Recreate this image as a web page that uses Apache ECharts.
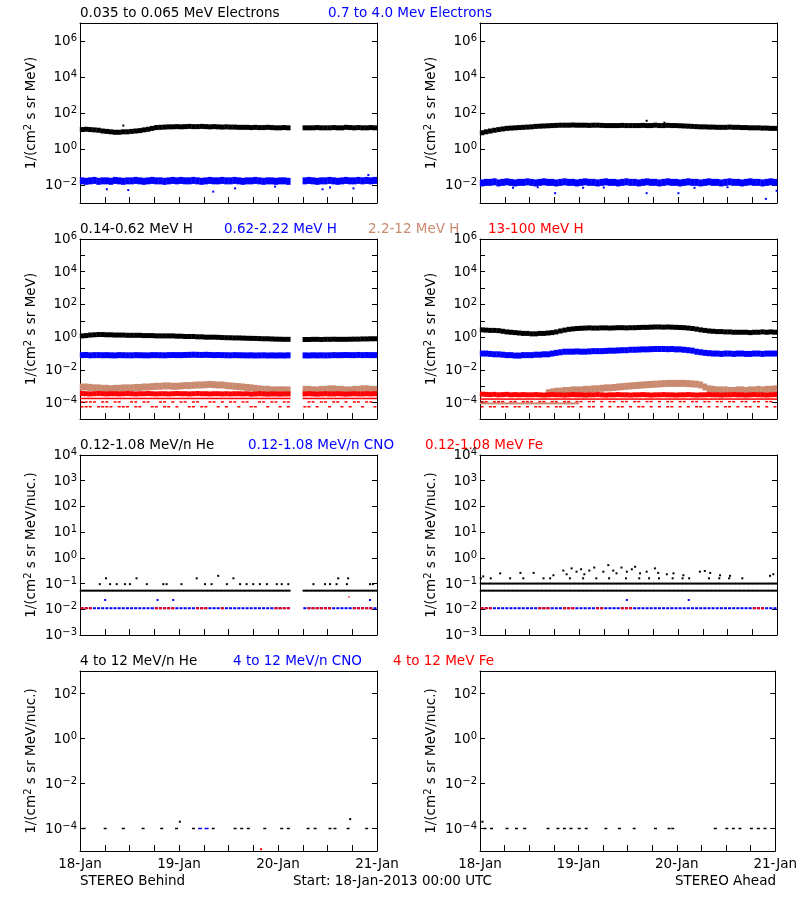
<!DOCTYPE html>
<html><head><meta charset="utf-8">
<script src="https://cdn.jsdelivr.net/npm/echarts@6/dist/echarts.min.js"></script>
<style>html,body{margin:0;padding:0;background:#fff}#c{width:800px;height:900px}</style>
</head><body><div id="c"></div>
<script>
// ---------------- DATA (hours since 18-Jan-2013 00:00 UTC, hourly bins) ----------------
const xTickLabels = ['18-Jan', '19-Jan', '20-Jan', '21-Jan'];

// Row 1: electrons
const elecLoB = [12,12.5,12,11.5,11, 10,9.5,9,8.5,8.5,9,9, 9.5,10,10.5,11.5,12.5,14,15.5, 16,16.5,17,17,17.5, 17,17.5,18,17.5,17.5,18,17.5,17,17.5,17,16.5,17,16.5,16.5,16, 16,16,15.5,16,15.5,15.5,16,15.5,15,15,15.5,15, null,null,null, 15,15,15,15.5,15,15,15,15.5,15,15,16,15.5,15,15.5,15,15,15.5,15];
const elecHiB = [0.017,0.016,0.017,0.018,0.016,0.017,0.017,0.016,0.018,0.017,0.016,0.017, 0.017,0.018,0.017,0.016,0.017,0.018,0.017,0.017,0.016,0.017,0.018,0.017, 0.018,0.017,0.017,0.018,0.017,0.016,0.017,0.018,0.017,0.017,0.018,0.017, 0.017,0.018,0.017,0.016,0.017,0.017,0.018,0.017,0.016,0.017,0.017,0.016, 0.017,0.017,0.016, null,null,null, 0.017,0.018,0.017,0.016,0.017,0.017,0.018,0.017,0.016,0.017,0.018,0.017,0.017,0.018,0.017,0.018,0.017,0.018];
const elecLoA = [8,9,10,11,12,13,14,14.5,15,15.5,16,16.5,17,18,18.5,19,19.5,20,20.5, 21,21,21,21.5,21,21,21,20.5,21,21,20.5,20,20,20,20,20.5,20,20,20, 20,20.5,20,20,21,20,20,20.5,20,20,19.5,19,18.5,18, 17.5,17,17,16.5,16.5,16,16,16,16.5,16,16,15.5,15.5,15,15,15,14.5,14.5,14,14];
const elecHiA = [0.013,0.014,0.014,0.015,0.013,0.014,0.015,0.014,0.013,0.014,0.014,0.015, 0.014,0.013,0.014,0.015,0.014,0.014,0.013,0.014,0.015,0.014,0.014,0.013, 0.014,0.015,0.014,0.014,0.013,0.014,0.015,0.014,0.014,0.013,0.014,0.015, 0.014,0.014,0.013,0.014,0.015,0.014,0.014,0.013,0.014,0.015,0.014,0.014, 0.013,0.014,0.015,0.014,0.014,0.013,0.014,0.015,0.014,0.014,0.013,0.014, 0.015,0.014,0.014,0.013,0.014,0.015,0.014,0.014,0.013,0.014,0.015,0.014];
const elecLoBExtra = [[10.5,20]];
const elecHiBExtra = [[6.5,0.0058],[11.7,0.0052],[32.3,0.0043],[37.6,0.0065],[47.3,0.0081],[58.8,0.0058],[60.6,0.0073],[66.3,0.0065],[69.9,0.036]];
const elecLoAExtra = [[40.4,37],[44.7,29]];
const elecHiAExtra = [[8,0.007],[14,0.0075],[18.2,0.0035],[25,0.007],[30,0.0072],[40.4,0.0035],[48.1,0.0035],[52,0.007],[60,0.0075],[69.3,0.0017],[71.9,0.0048]];

// Row 2: protons
const pLoB = [1.2,1.25,1.35,1.4,1.45,1.45,1.4,1.4,1.35,1.35,1.35,1.3, 1.3,1.3,1.3,1.25,1.25,1.25,1.2,1.2,1.2,1.2,1.2,1.15, 1.15,1.1,1.1,1.1,1.05,1.05,1.0,1.0,1.0,0.98,0.95,0.93, 0.92,0.9,0.9,0.88,0.86,0.85,0.84,0.82,0.8,0.8,0.78,0.76,0.75,0.74,0.74, null,null,null, 0.72,0.72,0.74,0.74,0.72,0.74,0.74,0.75,0.74,0.74,0.74,0.75,0.76,0.76,0.78,0.78,0.8,0.8];
const pMidB = [0.08,0.082,0.078,0.08,0.08,0.079,0.08,0.078,0.077,0.08,0.079,0.078, 0.078,0.08,0.079,0.078,0.077,0.08,0.08,0.079,0.078,0.08,0.081,0.08, 0.08,0.082,0.083,0.085,0.083,0.082,0.084,0.082,0.08,0.081,0.08,0.079, 0.078,0.08,0.079,0.078,0.077,0.078,0.076,0.077,0.078,0.076,0.077,0.076, 0.077,0.076,0.078, null,null,null, 0.077,0.076,0.078,0.077,0.078,0.077,0.078,0.08,0.079,0.08,0.081,0.08,0.08,0.082,0.08,0.081,0.08,0.08];
const pHiB = [9e-4,9e-4,8.5e-4,8e-4,8e-4,7.5e-4,7.5e-4,7e-4,7.5e-4,7.5e-4,8e-4,8e-4, 8e-4,8.5e-4,8.5e-4,9e-4,9e-4,9.5e-4,1e-3,1e-3,1.05e-3,1.05e-3,1e-3,1e-3, 1.05e-3,1.1e-3,1.1e-3,1.15e-3,1.2e-3,1.2e-3,1.25e-3,1.3e-3,1.25e-3,1.2e-3,1.2e-3,1.1e-3, 1.05e-3,1e-3,9.5e-4,9e-4,8.5e-4,8e-4,7.5e-4,7e-4,6.5e-4,6.5e-4,6e-4,6e-4, 6e-4,6e-4,6e-4, null,null,null, 6.5e-4,6.5e-4,6e-4,6e-4,6.5e-4,6.5e-4,7e-4,7e-4,6.5e-4,6.5e-4,6e-4,6e-4,6.5e-4,6.5e-4,7e-4,7e-4,6.5e-4,6.5e-4];
const pVhB = [3.6e-4,3.5e-4,3.4e-4,3.5e-4,3.6e-4,3.5e-4,3.4e-4,3.5e-4,3.5e-4,3.4e-4,3.5e-4,3.6e-4, 3.5e-4,3.4e-4,3.5e-4,3.5e-4,3.6e-4,3.5e-4,3.4e-4,3.5e-4,3.5e-4,3.4e-4,3.5e-4,3.6e-4, 3.5e-4,3.5e-4,3.4e-4,3.5e-4,3.6e-4,3.5e-4,3.5e-4,3.4e-4,3.5e-4,3.5e-4,3.4e-4,3.5e-4, 3.4e-4,3.5e-4,3.5e-4,3.4e-4,3.5e-4,3.3e-4,3.4e-4,3.5e-4,3.4e-4,3.3e-4,3.4e-4,3.4e-4, 3.3e-4,3.4e-4,3.4e-4, null,null,null, 3.4e-4,3.5e-4,3.4e-4,3.3e-4,3.4e-4,3.5e-4,3.4e-4,3.4e-4,3.5e-4,3.4e-4,3.3e-4,3.4e-4,3.5e-4,3.4e-4,3.4e-4,3.5e-4,3.4e-4,3.5e-4];
const pLoA = [2.8,2.7,2.6,2.6,2.5, 2.3,2.1,2.0,1.9,1.8, 1.7,1.7,1.6,1.6,1.7,1.7,1.8, 1.9,2.1,2.4,2.7,3.0,3.2,3.4, 3.5,3.6,3.7,3.6,3.6,3.7,3.7,3.6,3.7,3.8,3.8,3.7, 3.8,3.8,3.9,4.0,4.0,4.1,4.2,4.2,4.1,4.2,4.1,4.0, 3.9,3.8,3.6,3.4,3.1,2.8,2.6,2.4, 2.3,2.2,2.2,2.1,2.1,2.0,2.0,2.0,2.0,1.9,2.0,2.0,2.1,2.0,2.1,2.0];
const pMidA = [0.1,0.1,0.095,0.09,0.09, 0.085,0.08,0.08,0.075,0.075,0.08,0.08,0.08, 0.085,0.085,0.09,0.09,0.1,0.11,0.12, 0.13,0.13,0.13,0.135,0.13,0.13,0.135,0.14,0.14,0.14, 0.145,0.15,0.15,0.155,0.16,0.16,0.17,0.17,0.175,0.18, 0.18,0.185,0.19,0.19,0.19,0.185,0.19,0.18,0.18,0.17, 0.16,0.15,0.13,0.12,0.11,0.105, 0.1,0.1,0.095,0.1,0.1,0.095,0.1,0.1,0.095,0.095,0.1,0.1,0.095,0.1,0.1,0.1];
const pHiA = [null,null,null,null,null,null,null,null,null,null,null,null,null,null,null,null, 4e-4,4.5e-4,5e-4,5e-4,5.5e-4,5.5e-4,6e-4,6e-4, 6e-4,6.5e-4,6.5e-4,7e-4,7e-4,7.5e-4,8e-4,8e-4, 8.5e-4,9e-4,9.5e-4,1e-3,1.05e-3,1.1e-3,1.15e-3,1.2e-3, 1.25e-3,1.3e-3,1.35e-3,1.4e-3,1.45e-3,1.5e-3,1.5e-3,1.5e-3, 1.5e-3,1.5e-3,1.45e-3,1.4e-3,1.35e-3,1.2e-3,9e-4,7e-4, 6.5e-4,6e-4,6e-4,6e-4,5.5e-4,5.5e-4,6e-4,6e-4,5.5e-4,6e-4,6e-4,6.5e-4,6e-4,6.5e-4,6.5e-4,7e-4];
const pVhA = [3.3e-4,3.2e-4,3.1e-4,3.2e-4,3.0e-4,3.1e-4,3.2e-4,3.0e-4,3.1e-4,3.0e-4,3.1e-4,3.0e-4, 3.0e-4,3.1e-4,3.0e-4,2.9e-4,3.0e-4,3.1e-4,3.0e-4,3.0e-4,2.9e-4,3.0e-4,3.1e-4,3.0e-4, 3.0e-4,2.9e-4,3.0e-4,3.0e-4,3.1e-4,3.0e-4,2.9e-4,3.0e-4,3.0e-4,3.1e-4,3.0e-4,3.0e-4, 2.9e-4,3.0e-4,3.0e-4,3.1e-4,3.0e-4,2.9e-4,3.0e-4,3.0e-4,3.1e-4,3.0e-4,3.0e-4,2.9e-4, 3.0e-4,3.0e-4,3.1e-4,3.0e-4,2.9e-4,3.0e-4,3.0e-4,3.1e-4,3.0e-4,3.0e-4,2.9e-4,3.0e-4, 3.0e-4,3.1e-4,3.0e-4,3.0e-4,2.9e-4,3.0e-4,3.1e-4,3.0e-4,3.0e-4,2.9e-4,3.0e-4,3.1e-4];

// hours with data
const behindHours = [0,1,2,3,4,5,6,7,8,9,10,11,12,13,14,15,16,17,18,19,20,21,22,23,24,25,26,27,28,29,30,31,32,33,34,35,36,37,38,39,40,41,42,43,44,45,46,47,48,49,50,54,55,56,57,58,59,60,61,62,63,64,65,66,67,68,69,70,71];
const aheadHours = [0,1,2,3,4,5,6,7,8,9,10,11,12,13,14,15,16,17,18,19,20,21,22,23,24,25,26,27,28,29,30,31,32,33,34,35,36,37,38,39,40,41,42,43,44,45,46,47,48,49,50,51,52,53,54,55,56,57,58,59,60,61,62,63,64,65,66,67,68,69,70,71];

// quantized 13-100 MeV H count levels (value levels + hours present)
const redLevelsB = [1.8e-4, 1.1e-4, 5.6e-5];
const redL2B = [0,1,2,3,5,6,8,9,12,13,15,16,19,20,22,24,25,27,28,31,32,34,36,37,39,40,43,44,46,47,49,50,55,56,58,59,61,62,64,66,67,69,70];
const redL3B = [0,1,2,4,5,6,7,9,10,11,13,14,17,18,20,21,23,26,27,29,30,33,35,38,41,42,45,48,50,54,55,57,60,63,65,68,71];
const redLevelsA = [1.65e-4, 1.15e-4, 5.6e-5];
const redL2A = [0,1,3,4,5,7,8,10,11,12,14,15,17,18,20,21,23,24,26,27,29,31,32,34,35,37,38,40,41,43,45,46,48,49,51,52,54,55,57,58,60,61,63,64,66,67,69,70];
const redL3A = [0,2,3,5,6,8,9,11,13,14,16,18,19,21,22,24,26,27,29,31,33,34,36,38,39,41,43,45,46,48,50,52,53,55,57,59,60,62,64,65,67,69,71];
const sienLowLevelA = 9e-5;
const sienLowA = [0,1,2,3,4,5,6,7,8,9,10,11,12,13,14,15,16,17,18,19,20,21,22,23];

// Row 3: 0.12-1.08 MeV/n
const heBaseLevel = 0.053, heMidLevel = 0.1, cnoLevel = 0.011;
const heScatB = [[4.8,0.095],[6.3,0.16],[7.3,0.095],[8.9,0.095],[10.9,0.095],[12.1,0.095],[13.7,0.16],[16.2,0.095],[20.2,0.095],[21.0,0.095],[24.6,0.095],[28.3,0.16],[30.3,0.095],[31.9,0.095],[33.5,0.2],[35.6,0.095],[37.2,0.16],[38.8,0.095],[40.4,0.095],[42.0,0.095],[43.6,0.095],[45.3,0.095],[47.7,0.095],[48.9,0.095],[50.5,0.095],[56.6,0.095],[59.4,0.095],[60.6,0.095],[62.2,0.095],[62.6,0.16],[64.7,0.095],[65.0,0.16],[70.3,0.095],[71.0,0.095]];
const feHoursB = [0,1,2,18,19,20,21,22,28,29,30,34,47,48,49,50,55,56,57,58,59,60,66,67,68,69,70];
const cnoUpB = [[6.1,0.023],[18.8,0.023],[22.6,0.023],[70.3,0.023]];
const feUpB = [[65.2,0.03]];
const heScatA = [[0.8,0.19],[4.9,0.25],[9.8,0.26],[13.0,0.26],[17.8,0.21],[20.2,0.32],[21.0,0.23],[22.2,0.39],[23.4,0.29],[24.5,0.36],[25.3,0.23],[26.5,0.32],[27.7,0.42],[29.9,0.29],[31.1,0.52],[32.3,0.32],[33.1,0.25],[34.3,0.42],[35.6,0.29],[36.8,0.36],[37.6,0.45],[38.8,0.25],[40.4,0.29],[42.4,0.39],[43.2,0.26],[45.3,0.23],[46.9,0.25],[49.3,0.21],[53.3,0.29],[54.5,0.31],[55.8,0.26],[58.2,0.21],[60.6,0.2],[70.3,0.2],[71.1,0.23],
  [0.2,0.16],[2.6,0.16],[7.3,0.16],[10.5,0.16],[15.4,0.16],[17.0,0.16],[21.8,0.16],[25.0,0.16],[28.2,0.16],[31.3,0.16],[35.4,0.16],[38.6,0.16],[41.0,0.16],[43.4,0.16],[46.7,0.16],[49.1,0.16],[50.7,0.16],[55.5,0.16],[58.0,0.16],[60.4,0.16],[63.6,0.16]];
const feHoursA = [0,1,2,14,15,16,20,21,22,28,29,34,35,36,66,67,68];
const cnoUpA = [[35.6,0.023],[50.6,0.023]];

// Row 4: 4-12 MeV/n
const he4Level = 1e-4;
const he4BHours = [1.0,6.1,10.5,15.3,19.8,23.4,27.5,32.3,37.6,39.2,40.8,44.8,48.9,50.5,55.3,57.0,60.6,61.8,65.0,69.5];
const cno4BHours = [29.1,30.7];
const he4BExtra = [[24.2,2e-4],[65.5,2.6e-4]];
const fe4BExtra = [[43.9,1.2e-5]];
const he4AHours = [1.2,2.8,6.6,8.9,10.9,16.6,19.0,20.6,22.2,24.2,25.9,30.7,34.0,37.6,42.8,46.1,47.0,57.4,60.2,61.8,63.4,66.2,67.9,69.5];
const he4AExtra = [[0.6,2e-4]];

// ---------------- BUILD ----------------
const FONT = '"DejaVu Sans", sans-serif';
const BLACK = '#000000', BLUE = '#0000ff', SIENNA = '#c98a70', RED = '#ff0000';
const lg = Math.log10;
const hourly = arr => arr.map((v, i) => v == null ? null : [i + 0.5, lg(v)]).filter(Boolean);
const atBins = (hours, level) => hours.map(h => [h + 0.5, lg(level)]);
const atTimes = (hours, level) => hours.map(h => [h, lg(level)]);
const pairs = p => p.map(([h, v]) => [h, lg(v)]);

const rowsTop = [23, 239, 455, 671], colsLeft = [80, 480], W = 297, H = 180;
const yRange = [[-3, 7], [-5, 6], [-3, 4], [-5, 3]];
const yLabels = [[-2, 0, 2, 4, 6], [-4, -2, 0, 2, 4, 6], [-3, -2, -1, 0, 1, 2, 3, 4], [-4, -2, 0, 2]];
const yTicks = [[-2, 0, 2, 4, 6], [-4, -3, -2, -1, 0, 1, 2, 3, 4, 5], [-2, -1, 0, 1, 2, 3], [-4, -2, 0, 2]];
const yNames = ['{b|1/(cm}{s|2}{b| s sr MeV)}', '{b|1/(cm}{s|2}{b| s sr MeV)}', '{b|1/(cm}{s|2}{b| s sr MeV/nuc.)}', '{b|1/(cm}{s|2}{b| s sr MeV/nuc.)}'];
const rich = {
  b: {fontSize: 13.5, fontFamily: FONT, color: '#000', verticalAlign: 'bottom', lineHeight: 15},
  s: {fontSize: 10, fontFamily: FONT, color: '#000', verticalAlign: 'top', lineHeight: 10, padding: [0, 0, 8, 0]}
};
const supTxt = v => (v < 0 ? '\u2212' + (-v) : '' + v);

const grid = [], xAxis = [], yAxis = [];
const line = {show: true, onZero: false, lineStyle: {color: '#000', width: 1}};
for (let r = 0; r < 4; r++) for (let c = 0; c < 2; c++) {
  const p = r * 2 + c;
  grid.push({left: colsLeft[c], top: rowsTop[r], width: W, height: H});
  xAxis.push({gridIndex: p, type: 'value', min: 0, max: 72, interval: 6, position: 'bottom',
    axisLine: line, splitLine: {show: false},
    axisTick: {show: true, inside: true, length: 6, lineStyle: {color: '#000'}},
    axisLabel: {show: r === 3, customValues: [0, 24, 48, 72], formatter: v => xTickLabels[Math.round(v / 24)],
      margin: 6, fontSize: 13.5, fontFamily: FONT, color: '#000'}});
  xAxis.push({gridIndex: p, type: 'value', min: 0, max: 72, interval: 6, position: 'top',
    axisLine: line, splitLine: {show: false}, axisTick: {show: false}, axisLabel: {show: false}});
  yAxis.push({gridIndex: p, type: 'value', min: yRange[r][0], max: yRange[r][1], interval: 1, position: 'left',
    axisLine: line, splitLine: {show: false},
    axisTick: {show: true, inside: true, length: 5, customValues: yTicks[r], lineStyle: {color: '#000'}},
    axisLabel: {show: true, customValues: yLabels[r], margin: 3, formatter: v => '{b|10}{s|' + supTxt(v) + '}', rich},
    name: yNames[r], nameLocation: 'middle', nameGap: 39, nameRotate: 90, nameTextStyle: {rich}});
  yAxis.push({gridIndex: p, type: 'value', min: yRange[r][0], max: yRange[r][1], interval: 1, position: 'right',
    axisLine: line, splitLine: {show: false}, axisLabel: {show: false},
    axisTick: {show: true, inside: true, length: 5, customValues: yTicks[r], lineStyle: {color: '#000'}}});
}

const series = [];
function add(p, data, color, w, h) {
  series.push({type: 'scatter', xAxisIndex: p * 2, yAxisIndex: p * 2, data, symbol: 'rect',
    symbolSize: [w, h], itemStyle: {color, opacity: 1}, silent: true, animation: false, clip: true});
}
// panel 0/1: electrons
add(0, hourly(elecLoB), BLACK, 4.5, 5); add(0, pairs(elecLoBExtra), BLACK, 2, 2);
add(0, hourly(elecHiB), BLUE, 4.5, 7); add(0, pairs(elecHiBExtra), BLUE, 2, 2);
add(1, hourly(elecLoA), BLACK, 4.5, 5); add(1, pairs(elecLoAExtra), BLACK, 2, 2);
add(1, hourly(elecHiA), BLUE, 4.5, 7); add(1, pairs(elecHiAExtra), BLUE, 2, 2);
// panel 2/3: protons
add(2, hourly(pLoB), BLACK, 4.5, 5); add(2, hourly(pMidB), BLUE, 4.5, 6);
add(2, hourly(pHiB), SIENNA, 4.5, 7);
add(2, hourly(pVhB), RED, 4.5, 5);
add(2, atBins(behindHours, redLevelsB[0]), RED, 4.5, 1.5);
add(2, atBins(redL2B, redLevelsB[1]), RED, 3, 1.5);
add(2, atBins(redL3B, redLevelsB[2]), RED, 3, 1.5);
add(3, hourly(pLoA), BLACK, 4.5, 5); add(3, hourly(pMidA), BLUE, 4.5, 6);
add(3, atBins(sienLowA, sienLowLevelA), SIENNA, 4.5, 2);
add(3, hourly(pHiA), SIENNA, 4.5, 7);
add(3, hourly(pVhA), RED, 4.5, 5);
add(3, atBins(aheadHours, redLevelsA[0]), RED, 4.5, 1.5);
add(3, atBins(redL2A, redLevelsA[1]), RED, 3, 1.5);
add(3, atBins(redL3A, redLevelsA[2]), RED, 3, 1.5);
// panel 4/5: 0.12-1.08 MeV/n
add(4, atBins(behindHours, heBaseLevel), BLACK, 4.5, 2); add(4, pairs(heScatB), BLACK, 2, 2);
add(4, atBins(behindHours, cnoLevel), BLUE, 3, 2); add(4, pairs(cnoUpB), BLUE, 2, 2);
add(4, atBins(feHoursB, cnoLevel), RED, 3, 2); add(4, pairs(feUpB), RED, 2, 1);
add(5, atBins(aheadHours, heBaseLevel), BLACK, 4.5, 2); add(5, atBins(aheadHours, heMidLevel), BLACK, 4.5, 2);
add(5, pairs(heScatA), BLACK, 2, 2);
add(5, atBins(aheadHours, cnoLevel), BLUE, 3, 2); add(5, pairs(cnoUpA), BLUE, 2, 2);
add(5, atBins(feHoursA, cnoLevel), RED, 3, 2);
// panel 6/7: 4-12 MeV/n
add(6, atTimes(he4BHours, he4Level), BLACK, 3, 1.5); add(6, pairs(he4BExtra), BLACK, 2, 2);
add(6, atTimes(cno4BHours, he4Level), BLUE, 4, 1.5); add(6, pairs(fe4BExtra), RED, 2, 2);
add(7, atTimes(he4AHours, he4Level), BLACK, 3, 1.5); add(7, pairs(he4AExtra), BLACK, 2, 2);

const texts = [
  ['0.035 to 0.065 MeV Electrons', 80, 13, BLACK], ['0.7 to 4.0 Mev Electrons', 328, 13, BLUE],
  ['0.14-0.62 MeV H', 80, 229, BLACK], ['0.62-2.22 MeV H', 224, 229, BLUE], ['2.2-12 MeV H', 368, 229, SIENNA], ['13-100 MeV H', 488, 229, RED],
  ['0.12-1.08 MeV/n He', 80, 445, BLACK], ['0.12-1.08 MeV/n CNO', 248, 445, BLUE], ['0.12-1.08 MeV Fe', 425, 445, RED],
  ['4 to 12 MeV/n He', 80, 661.5, BLACK], ['4 to 12 MeV/n CNO', 233, 661.5, BLUE], ['4 to 12 MeV Fe', 393, 661.5, RED],
  ['STEREO Behind', 80, 881, BLACK], ['Start: 18-Jan-2013 00:00 UTC', 293, 881, BLACK], ['STEREO Ahead', 776, 881, BLACK, 'right']
];
const graphic = texts.map(t => ({type: 'text', x: t[1], y: t[2], silent: true,
  style: {text: t[0], fill: t[3], fontSize: 13.5, fontFamily: FONT, align: t[4] || 'left', verticalAlign: 'middle'}}));

const chart = echarts.init(document.getElementById('c'), null, {renderer: 'canvas'});
chart.setOption({animation: false, backgroundColor: '#fff', grid, xAxis, yAxis, series, graphic});
</script></body></html>
